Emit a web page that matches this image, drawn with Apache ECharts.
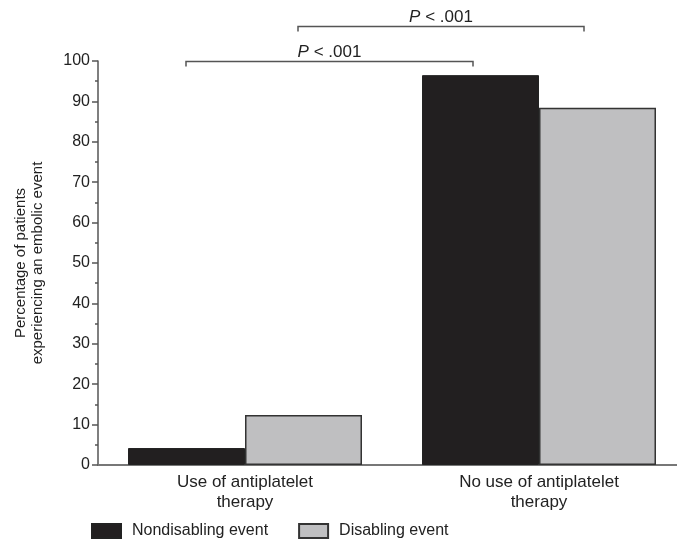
<!DOCTYPE html>
<html>
<head>
<meta charset="utf-8">
<script src="https://cdn.jsdelivr.net/npm/echarts@6/dist/echarts.min.js"></script>
<style>
html, body { margin: 0; padding: 0; background: #fff; }
#main { width: 677px; height: 543px; }
</style>
</head>
<body>
<div id="main"></div>
<script>
var categories = ['Use of antiplatelet\ntherapy', 'No use of antiplatelet\ntherapy'];
var nondisabling = [4.2, 96.5];
var disabling = [12.4, 88.4];
var yTicks = [0, 10, 20, 30, 40, 50, 60, 70, 80, 90, 100];
// significance brackets: value level and label
var bracketLevels = [100, 108.7];
var bracketLabels = ['P < .001', 'P < .001'];

var font = 'Liberation Sans, Arial, Helvetica, sans-serif';
var myChart = echarts.init(document.getElementById('main'));

var option = {
    animation: false,
    backgroundColor: '#fff',
    textStyle: { fontFamily: font },
    grid: { left: 98, right: -9, top: 61, bottom: 78, outerBoundsMode: 'none' },
    legend: {
        left: 91,
        bottom: 4,
        padding: 0,
        icon: 'rect',
        itemWidth: 29,
        itemHeight: 14,
        itemGap: 30,
        textStyle: { fontSize: 16, color: '#222', fontFamily: font, padding: [0, 0, 0, 6] },
        data: ['Nondisabling event', 'Disabling event']
    },
    xAxis: {
        type: 'category',
        data: categories,
        axisLine: { lineStyle: { color: '#777', width: 2 } },
        axisTick: { show: false },
        axisLabel: { fontSize: 17, color: '#222', margin: 7, lineHeight: 20, fontFamily: font }
    },
    yAxis: {
        type: 'value',
        min: 0,
        max: 100,
        interval: 10,
        name: 'Percentage of patients\nexperiencing an embolic event',
        nameLocation: 'middle',
        nameGap: 52,
        nameTextStyle: { fontSize: 15, color: '#222', lineHeight: 17, fontFamily: font },
        axisLine: { show: true, lineStyle: { color: '#555', width: 1.5 } },
        axisTick: { show: true, length: 6, lineStyle: { color: '#555', width: 1.5 } },
        minorTick: { show: true, splitNumber: 2, length: 3, lineStyle: { color: '#555', width: 1.5 } },
        splitLine: { show: false },
        axisLabel: {
            fontSize: 16, color: '#222', margin: 8, fontFamily: font,
            formatter: function (v) { return yTicks.indexOf(v) >= 0 ? String(v) : ''; }
        }
    },
    series: [{
        name: 'Nondisabling event',
        type: 'bar',
        data: nondisabling,
        barWidth: 117,
        barGap: '0%',
        itemStyle: { color: '#221f20', borderColor: '#222', borderWidth: 1 }
    }, {
        name: 'Disabling event',
        type: 'bar',
        data: disabling,
        barWidth: 117,
        itemStyle: { color: '#bfbfc1', borderColor: '#333', borderWidth: 1.5 }
    }]
};
myChart.setOption(option, true);

// brackets drawn from value-axis positions and category centres
function drawBrackets() {
    var c0 = myChart.convertToPixel({ xAxisIndex: 0 }, 0);
    var c1 = myChart.convertToPixel({ xAxisIndex: 0 }, 1);
    var spans = [[c0 - 59, c1 - 66], [c0 + 53, c1 + 45]];
    var elements = [];
    spans.forEach(function (s, i) {
        var y = Math.round(myChart.convertToPixel({ yAxisIndex: 0 }, bracketLevels[i])) + 0.5;
        elements.push({
            type: 'polyline',
            shape: { points: [[s[0], y + 5], [s[0], y], [s[1], y], [s[1], y + 5]] },
            style: { stroke: '#555', lineWidth: 1.5, fill: null }
        });
        var parts = bracketLabels[i].split(' ');
        elements.push({
            type: 'text',
            x: (s[0] + s[1]) / 2,
            y: y - 1,
            style: {
                text: '{i|' + parts[0] + '}{n| ' + parts.slice(1).join(' ') + '}',
                align: 'center',
                verticalAlign: 'bottom',
                rich: {
                    i: { fontStyle: 'italic', fontSize: 17, fill: '#222', fontFamily: font },
                    n: { fontSize: 17, fill: '#222', fontFamily: font }
                }
            }
        });
    });
    myChart.setOption({ graphic: elements });
}
drawBrackets();
</script>
</body>
</html>
